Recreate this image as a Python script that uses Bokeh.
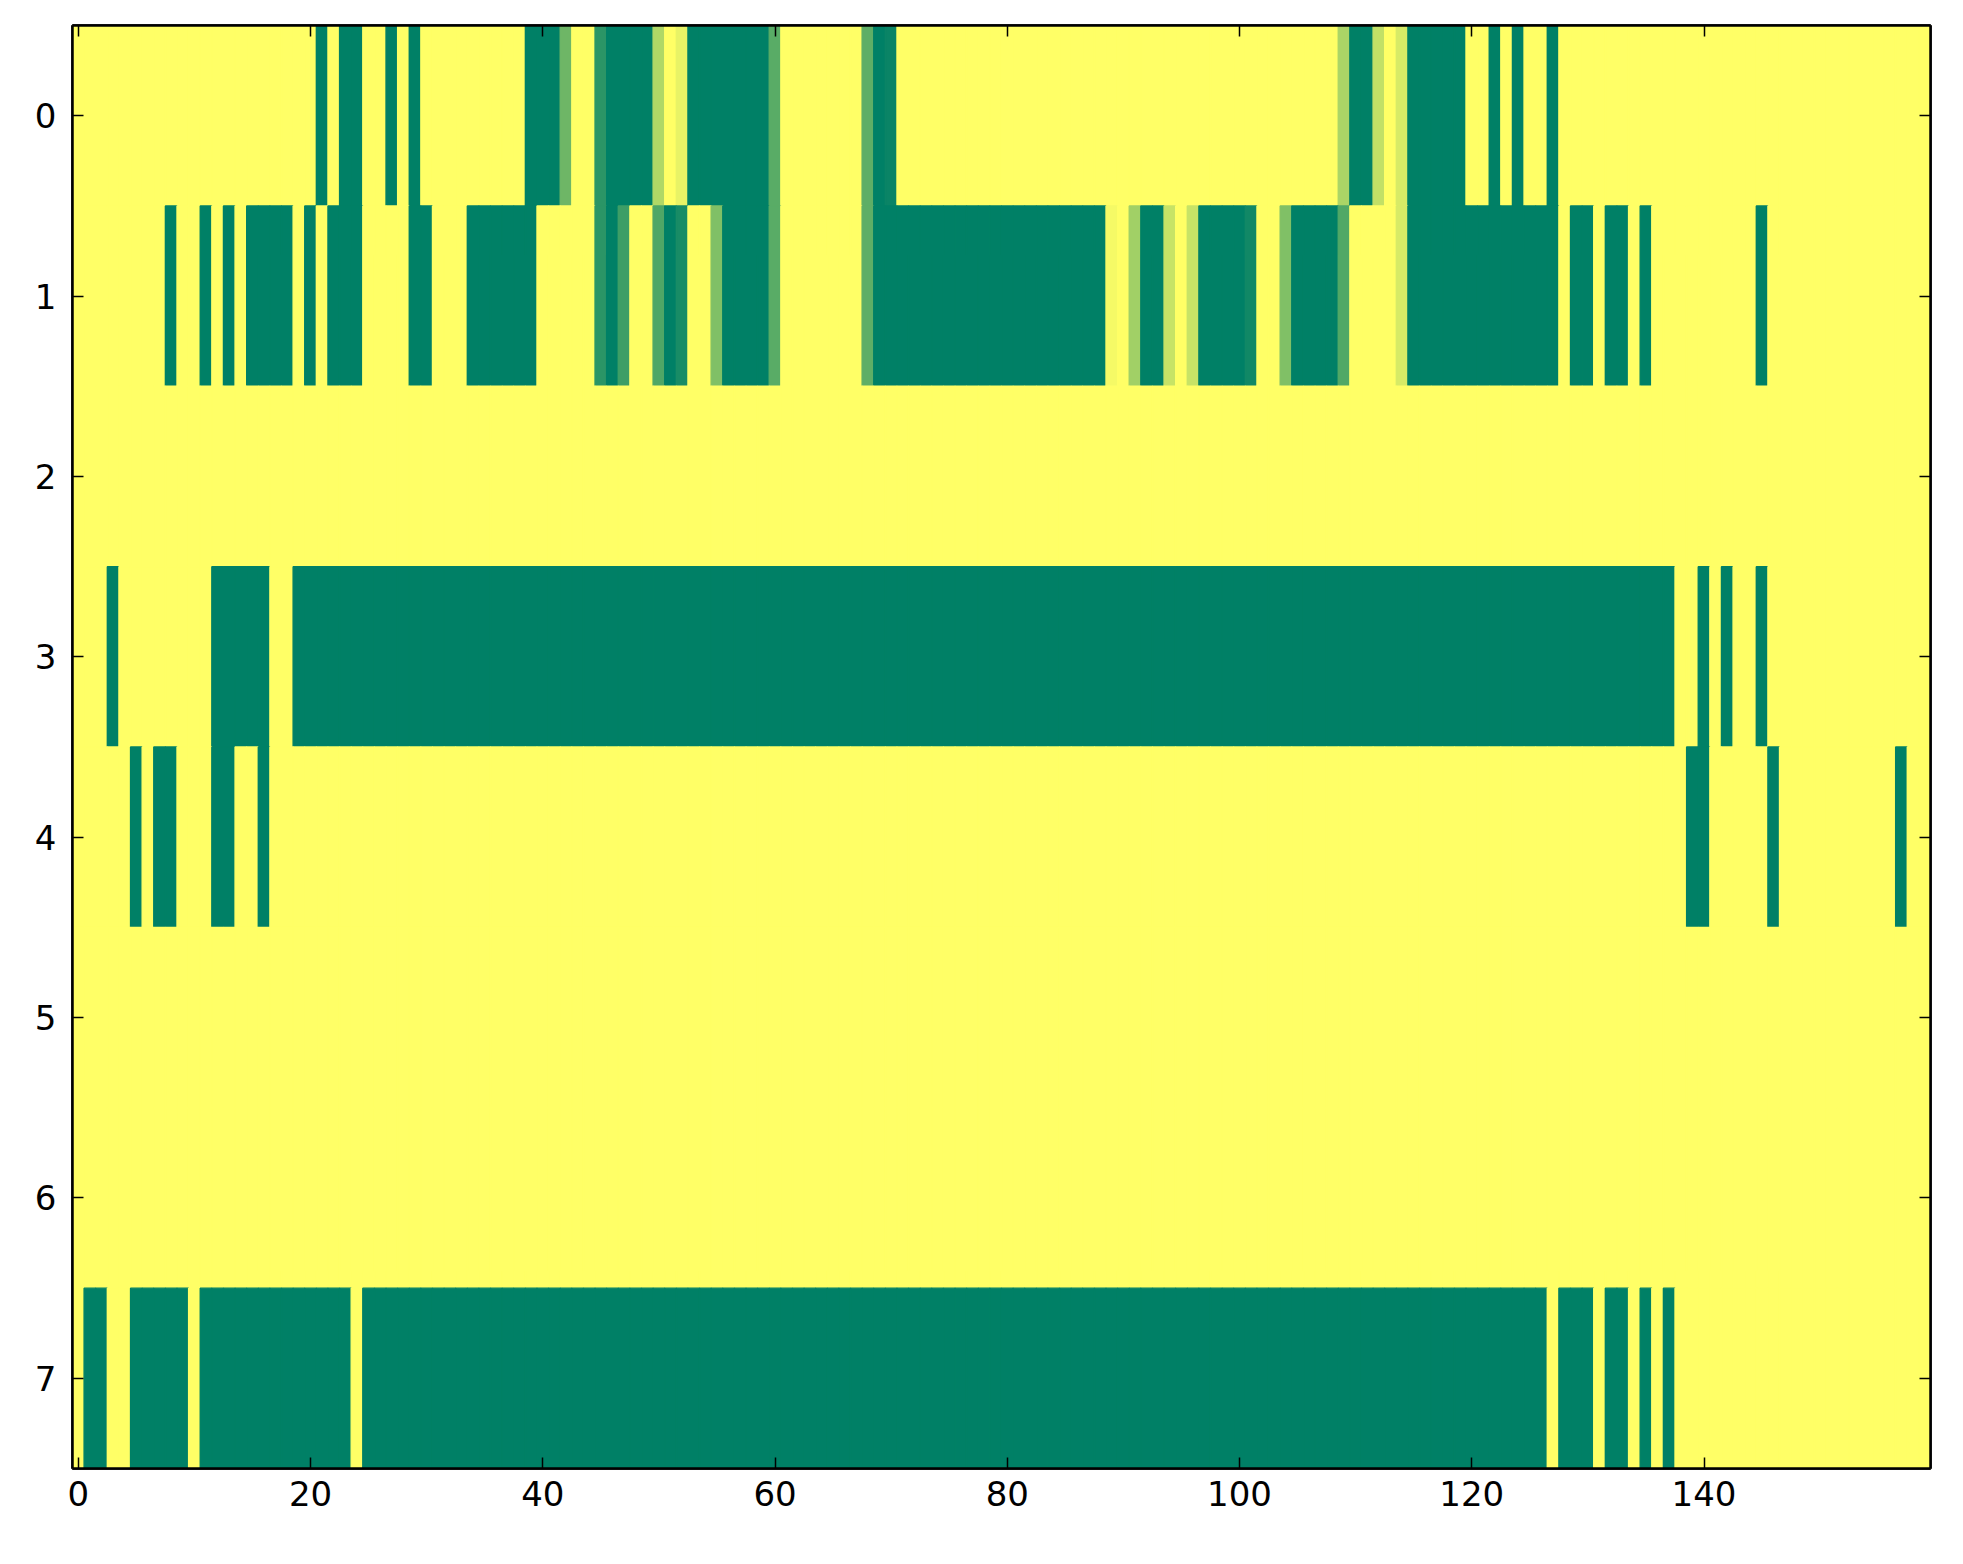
import numpy as np
from bokeh.plotting import figure
from bokeh.models import (ColumnDataSource, LinearColorMapper, Range1d, FixedTicker,
                          LinearAxis, CustomJSTickFormatter)
from bokeh.embed import file_html
from bokeh.resources import INLINE

# ---- data: 8 rows x 160 columns (values in [0, 1]) ----
row0 = ([1] * 20 +
        [1, 0, 1, 0, 0, 1, 1, 0, 1, 0, 1, 1, 1, 1, 1, 1, 1, 1, 1, 0] +
        [0, 0, 0.43, 1, 1, 0.17, 0, 0, 0, 0, 0.69, 1, 0.91, 0, 0, 0, 0, 0, 0, 0] +
        [0.35, 1, 1, 1, 1, 1, 1, 1, 0.37, 0, 0.04, 1, 1, 1, 1, 1, 1, 1, 1, 1] +
        [1] * 20 +
        [1, 1, 1, 1, 1, 1, 1, 1, 1, 0.67, 0, 0, 0.76, 1, 0.84, 0, 0, 0, 0, 0] +
        [1, 1, 0, 1, 0, 1, 1, 0, 1, 1, 1, 1, 1, 1, 1, 1, 1, 1, 1, 1] +
        [1] * 20)
row1 = ([1, 1, 1, 1, 1, 1, 1, 1, 0, 1, 1, 0, 1, 0, 1, 0, 0, 0, 0, 1] +
        [0, 1, 0, 0, 0, 1, 1, 1, 1, 0, 0, 1, 1, 1, 0, 0, 0, 0, 0, 0] +
        [1, 1, 1, 1, 1, 0.17, 0, 0.24, 1, 1, 0.31, 0, 0.10, 1, 1, 0.50, 0, 0, 0, 0] +
        [0.35, 1, 1, 1, 1, 1, 1, 1, 0.37, 0, 0, 0, 0, 0, 0, 0, 0, 0, 0, 0] +
        [0, 0, 0, 0, 0, 0, 0, 0, 0, 0.96, 1, 0.63, 0, 0, 0.78, 1, 0.78, 0, 0, 0] +
        [0, 0.07, 1, 1, 0.50, 0, 0, 0, 0, 0.32, 1, 1, 1, 1, 0.84, 0, 0, 0, 0, 0] +
        [0, 0, 0, 0, 0, 0, 0, 0, 1, 0, 0, 1, 0, 0, 1, 0, 1, 1, 1, 1] +
        [1, 1, 1, 1, 1, 0, 1, 1, 1, 1, 1, 1, 1, 1, 1, 1, 1, 1, 1, 1])
row2 = [1] * 160
row3 = ([1, 1, 1, 0, 1, 1, 1, 1, 1, 1, 1, 1, 0, 0, 0, 0, 0, 1, 1, 0] +
        [0] * 100 +
        [0] * 18 + [1, 1] +
        [0, 1, 0, 1, 1, 0, 1, 1, 1, 1, 1, 1, 1, 1, 1, 1, 1, 1, 1, 1])
row4 = ([1, 1, 1, 1, 1, 0, 1, 0, 0, 1, 1, 1, 0, 0, 1, 1, 0, 1, 1, 1] +
        [1] * 100 +
        [1] * 19 + [0] +
        [0, 1, 1, 1, 1, 1, 0, 1, 1, 1, 1, 1, 1, 1, 1, 1, 1, 0, 1, 1])
row5 = [1] * 160
row6 = [1] * 160
row7 = ([1, 0, 0, 1, 1, 0, 0, 0, 0, 0, 1, 0, 0, 0, 0, 0, 0, 0, 0, 0] +
        [0, 0, 0, 0, 1] + [0] * 15 +
        [0] * 80 +
        [0, 0, 0, 0, 0, 0, 0, 1, 0, 0, 0, 1, 0, 0, 1, 0, 1, 0, 1, 1] +
        [1] * 20)
rows = [row0, row1, row2, row3, row4, row5, row6, row7]

x_ticks = [0, 20, 40, 60, 80, 100, 120, 140]
y_ticks = [0, 1, 2, 3, 4, 5, 6, 7]

# ---- build table ----
xs, ys, vs = [], [], []
for r, row in enumerate(rows):
    for c, v in enumerate(row):
        xs.append(c)
        ys.append(r)
        vs.append(float(v))
src = ColumnDataSource(dict(x=xs, y=ys, v=vs))
ncol = len(row0)
nrow = len(rows)

# matplotlib "summer" colormap
summer = []
for i in range(256):
    t = i / 255.0
    summer.append("#%02x%02x%02x" % (int(round(255 * t)), int(round(255 * (0.5 + 0.5 * t))), int(round(255 * 0.4))))
mapper = LinearColorMapper(palette=summer, low=0, high=1)

p = figure(frame_width=1858, frame_height=1443,
           x_range=Range1d(-0.5, ncol - 0.5), y_range=Range1d(nrow - 0.5, -0.5),
           output_backend="svg", toolbar_location=None,
           min_border_left=72, min_border_right=10, min_border_top=25, min_border_bottom=60)

p.rect(x="x", y="y", width=1, height=1, source=src,
       fill_color={"field": "v", "transform": mapper},
       line_color={"field": "v", "transform": mapper}, line_width=1.4)

p.grid.visible = False
p.outline_line_color = "black"
p.outline_line_width = 2.5
p.background_fill_color = "#ffff66"

font = "DejaVu Sans"
fs = "34px"

def style(ax, ticks, labels=True, standoff=13):
    ax.ticker = FixedTicker(ticks=ticks)
    ax.axis_line_color = "black"
    ax.axis_line_width = 2.5
    ax.major_tick_in = 11
    ax.major_tick_out = 0
    ax.major_tick_line_color = "black"
    ax.major_tick_line_width = 1.5
    ax.minor_tick_line_color = None
    ax.major_label_text_font = font
    ax.major_label_text_font_size = fs
    ax.major_label_text_color = "black"
    ax.major_label_standoff = standoff
    if not labels:
        ax.formatter = CustomJSTickFormatter(code="return ''")
        ax.major_label_standoff = 0

style(p.xaxis[0], x_ticks, standoff=12)
style(p.yaxis[0], y_ticks, standoff=16)

top = LinearAxis()
style(top, x_ticks, labels=False)
p.add_layout(top, "above")
right = LinearAxis()
style(right, y_ticks, labels=False)
p.add_layout(right, "right")

open("out.html", "w").write(file_html(p, INLINE))
